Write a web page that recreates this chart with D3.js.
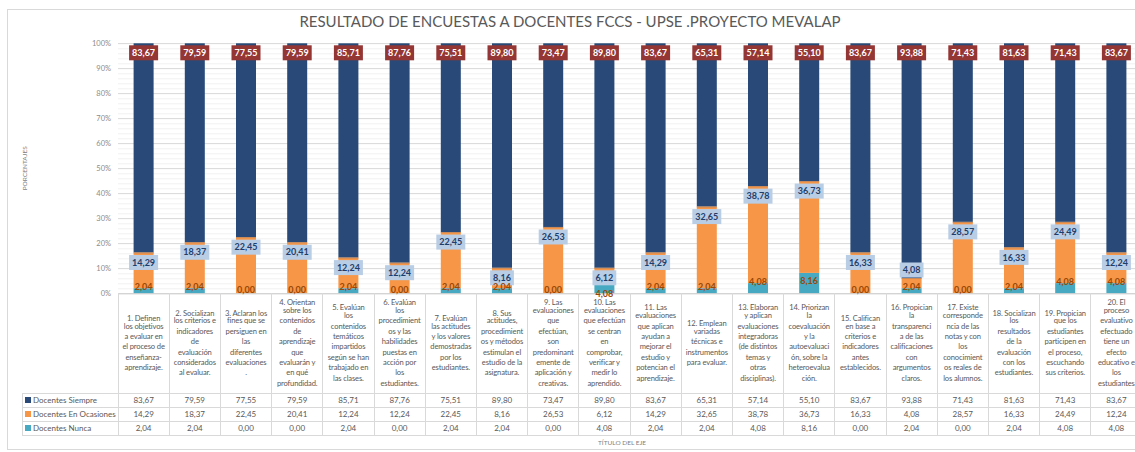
<!DOCTYPE html>
<html><head><meta charset="utf-8">
<script src="https://cdn.jsdelivr.net/npm/d3@7"></script>
<style>body{margin:0;background:#fff}svg{display:block;font-family:Lato,"Open Sans",sans-serif}</style>
</head><body><svg id="c" width="1135" height="452"></svg>
<script>
const title = "RESULTADO DE ENCUESTAS A DOCENTES FCCS - UPSE .PROYECTO MEVALAP";
const yAxisTitle = "PORCENTAJES";
const xAxisTitle = "TÍTULO DEL EJE";
const seriesNames = ["Docentes Siempre", "Docentes En Ocasiones", "Docentes Nunca"];
const categoryLines = [
  ["1. Definen","los objetivos","a evaluar en","el proceso de","enseñanza-","aprendizaje."],
  ["2. Socializan","los criterios e","indicadores","de","evaluación","considerados","al evaluar."],
  ["3. Aclaran los","fines que se","persiguen en","las","diferentes","evaluaciones","."],
  ["4. Orientan","sobre los","contenidos","de","aprendizaje","que","evaluarán  y","en qué","profundidad."],
  ["5. Evalúan","los","contenidos","temáticos","impartidos","según se han","trabajado en","las clases."],
  ["6. Evalúan","los","procedimient","os y las","habilidades","puestas en","acción por","los","estudiantes."],
  ["7. Evalúan","las actitudes","y los valores","demostradas","por los","estudiantes."],
  ["8. Sus","actitudes,","procedimient","os y métodos","estimulan el","estudio de la","asignatura."],
  ["9. Las","evaluaciones","que","efectúan,","son","predominant","emente de","aplicación y","creativas."],
  ["10. Las","evaluaciones","que efectúan","se centran","en","comprobar,","verificar y","medir lo","aprendido."],
  ["11. Las","evaluaciones","que aplican","ayudan a","mejorar el","estudio y","potencian el","aprendizaje."],
  ["12. Emplean","variadas","técnicas e","instrumentos","para evaluar."],
  ["13. Elaboran","y aplican","evaluaciones","integradoras","(de distintos","temas y","otras","disciplinas)."],
  ["14. Priorizan","la","coevaluación","y la","autoevaluaci","ón, sobre la","heteroevalua","ción."],
  ["15. Califican","en base a","criterios e","indicadores","antes","establecidos."],
  ["16. Propician","la","transparenci","a de las","calificaciones","con","argumentos","claros."],
  ["17. Existe","corresponde","ncia de las","notas y con","los","conocimient","os reales de","los alumnos."],
  ["18. Socializan","los","resultados","de la","evaluación","con los","estudiantes."],
  ["19. Propician","que los","estudiantes","participen en","el proceso,","escuchando","sus criterios."],
  ["20. El","proceso","evaluativo","efectuado","tiene un","efecto","educativo e","los","estudiantes"]
];
const siempre   = [83.67,79.59,77.55,79.59,85.71,87.76,75.51,89.80,73.47,89.80,83.67,65.31,57.14,55.10,83.67,93.88,71.43,81.63,71.43,83.67];
const ocasiones = [14.29,18.37,22.45,20.41,12.24,12.24,22.45,8.16,26.53,6.12,14.29,32.65,38.78,36.73,16.33,4.08,28.57,16.33,24.49,12.24];
const nunca     = [2.04,2.04,0.00,0.00,2.04,0.00,2.04,2.04,0.00,4.08,2.04,2.04,4.08,8.16,0.00,2.04,0.00,2.04,4.08,4.08];
const yTicks = [0,10,20,30,40,50,60,70,80,90,100];

const colors = {siempre:"#294a78", ocasiones:"#f79646", nunca:"#48a9c2"};
const fmt = v => d3.format(".2f")(v).replace(".", ",");

const svg = d3.select("#c");
const n = categoryLines.length;
const rows = d3.range(n).map(i => ({i, nunca:nunca[i], ocasiones:ocasiones[i], siempre:siempre[i]}));

const plotL = 118, step = 51.2, plotR = plotL + step*n;
const y0 = 293.3, y100 = 43.3;
const x = d3.scaleBand().domain(d3.range(n)).range([plotL, plotR]).padding(0);
const y = d3.scaleLinear().domain([0,100]).range([y0, y100]);
const barW = 20;
const cx = i => x(i) + x.bandwidth()/2;

svg.append("rect").attr("x",7.5).attr("y",9.5).attr("width",1160).attr("height",440)
  .attr("fill","none").attr("stroke","#d9d9d9");

svg.append("text").attr("x",570).attr("y",27).attr("text-anchor","middle")
  .attr("font-size",15).attr("fill","#595959").text(title);

svg.append("g").selectAll("line").data(d3.range(0,101,2)).join("line")
  .attr("x1",plotL).attr("x2",plotR).attr("y1",d=>y(d)+0.5).attr("y2",d=>y(d)+0.5)
  .attr("stroke","#f1f1f1");
svg.append("g").selectAll("line").data(yTicks).join("line")
  .attr("x1",plotL).attr("x2",plotR).attr("y1",d=>Math.round(y(d))+0.5).attr("y2",d=>Math.round(y(d))+0.5)
  .attr("stroke","#dcdcdc");

const yAxis = d3.axisLeft(y).tickValues(yTicks).tickFormat(d=>d+"%").tickSize(0).tickPadding(7);
const gy = svg.append("g").attr("transform",`translate(${plotL},0)`).call(yAxis);
gy.select(".domain").remove();
gy.selectAll("text").attr("font-size",7.5).attr("fill","#8c8c8c").attr("font-family","Lato,sans-serif");

svg.append("text").attr("transform",`translate(27,${(y0+y100)/2}) rotate(-90)`)
  .attr("text-anchor","middle").attr("font-size",6.5).attr("fill","#7f7f7f").text(yAxisTitle);

const stack = d3.stack().keys(["nunca","ocasiones","siempre"]);
const series = stack(rows);
svg.append("g").selectAll("g").data(series).join("g")
  .attr("fill", s => colors[s.key])
  .selectAll("rect").data(s => s).join("rect")
  .attr("x", d => cx(d.data.i) - barW/2).attr("width", barW)
  .attr("y", d => y(d[1])).attr("height", d => y(d[0]) - y(d[1]));
svg.append("g").selectAll("line").data(series[1]).join("line")
  .attr("x1", d => cx(d.data.i) - barW/2).attr("x2", d => cx(d.data.i) + barW/2)
  .attr("y1", d => y(d[1])+0.5).attr("y2", d => y(d[1])+0.5)
  .attr("stroke","#c98a5a").attr("stroke-width",1);

svg.append("line").attr("x1",plotL).attr("x2",plotR).attr("y1",y0+0.5).attr("y2",y0+0.5).attr("stroke","#d0d0d0");

const lab = svg.append("g").attr("font-size",9).attr("font-weight","bold").attr("text-anchor","middle");
function boxLabel(xc, yc, txt, fill, color){
  const g = lab.append("g");
  const t = g.append("text").attr("x",xc).attr("y",yc).attr("dy","0.35em").attr("fill",color).text(txt);
  const w = t.node().getComputedTextLength();
  g.insert("rect","text").attr("x",xc-w/2-3).attr("y",yc-7.5).attr("width",w+6).attr("height",15).attr("fill",fill);
}
rows.forEach(r => {
  const c = cx(r.i);
  boxLabel(c, y(100)+9.5, fmt(r.siempre), "#943634", "#ffffff");
  const oTop = y(r.nunca + r.ocasiones), oH = y(r.nunca) - oTop;
  const oC = oH >= 12 ? oTop + 10 : oTop - 8;
  boxLabel(c, oC, fmt(r.ocasiones), "#b9cde5", "#1f3d6b");
  const nTop = y(r.nunca), nH = y0 - nTop;
  let nC = nH >= 14 ? nTop + 8 : Math.min(nTop - 1, y0 - 3);
  if (nC - oC < 7) nC = y0 + 0.5;
  lab.append("text").attr("x",c).attr("y",nC).attr("dy","0.35em").attr("fill","#984807").text(fmt(r.nunca));
});

const tTop = y0, hdrBot = 393, rowH = 14, tLeft = 22;
const tbl = svg.append("g").attr("stroke","#d9d9d9").attr("shape-rendering","crispEdges");
d3.range(n+1).forEach(k => {
  tbl.append("line").attr("x1",plotL+k*step).attr("x2",plotL+k*step).attr("y1",tTop).attr("y2",hdrBot+3*rowH);
});
tbl.append("line").attr("x1",tLeft).attr("x2",tLeft).attr("y1",hdrBot).attr("y2",hdrBot+3*rowH);
[0,1,2,3].forEach(k => {
  tbl.append("line").attr("x1",tLeft).attr("x2",plotR).attr("y1",hdrBot+k*rowH).attr("y2",hdrBot+k*rowH);
});

const hdr = svg.append("g").attr("font-size",7.6).attr("letter-spacing","-0.15").attr("fill","#595959").attr("text-anchor","middle");
categoryLines.forEach((lines,i) => {
  const lh = 10.4, mid = (tTop + hdrBot)/2 + 1;
  const start = mid - (lines.length-1)*lh/2;
  const t = hdr.append("text").attr("x",cx(i)).attr("y",start).attr("dy","0.35em");
  lines.forEach((ln,k) => {
    const ts = t.append("tspan").attr("x",cx(i)).attr("y",start+k*lh).text(ln);
    const w = ts.node().getComputedTextLength();
    if (w > step - 3) ts.attr("textLength", step - 3).attr("lengthAdjust","spacingAndGlyphs");
  });
});

const seriesData = [siempre, ocasiones, nunca];
const seriesCols = [colors.siempre, colors.ocasiones, colors.nunca];
const rg = svg.append("g").attr("font-size",8).attr("fill","#595959");
seriesData.forEach((vals,k) => {
  const yc = hdrBot + k*rowH + rowH/2;
  rg.append("rect").attr("x",25).attr("y",yc-3).attr("width",6).attr("height",6).attr("fill",seriesCols[k]);
  rg.append("text").attr("x",33).attr("y",yc).attr("dy","0.35em").text(seriesNames[k]);
  vals.forEach((v,i) => rg.append("text").attr("x",cx(i)).attr("y",yc).attr("dy","0.35em")
    .attr("text-anchor","middle").text(fmt(v)));
});

svg.append("text").attr("x",(plotL+plotR)/2 - 8).attr("y",443).attr("dy","0.35em").attr("text-anchor","middle")
  .attr("font-size",6.5).attr("fill","#7f7f7f").text(xAxisTitle);
</script></body></html>
